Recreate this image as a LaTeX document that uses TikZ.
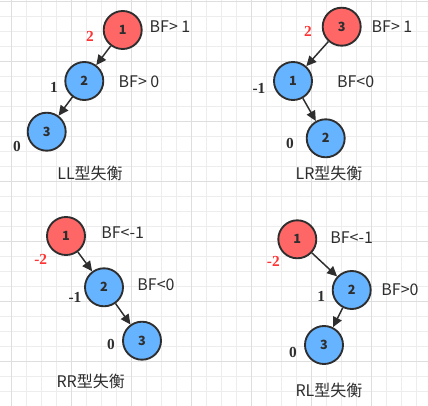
\documentclass[tikz,border=0pt]{standalone}
\usepackage{fontspec}
\setmainfont{Liberation Serif}
\newfontfamily\cjkfont{Noto Sans CJK SC}
\usetikzlibrary{arrows.meta}
\usetikzlibrary{positioning}

\definecolor{ballred}{HTML}{FF6666}
\definecolor{ballblue}{HTML}{66B3FF}
\definecolor{ballline}{HTML}{2E2E2E}
\definecolor{bfred}{HTML}{FF3333}
\definecolor{gridminor}{HTML}{EDEDED}
\definecolor{gridmajor}{HTML}{DEDEDE}

\tikzset{
  ball/.style={circle,draw=ballline,line width=1.4pt,minimum size=28.5pt,inner sep=0pt,
    font=\cjkfont\bfseries\fontsize{9.5}{9.5}\selectfont,text=ballline},
  redball/.style={ball,fill=ballred},
  blueball/.style={ball,fill=ballblue},
  link/.style={draw=ballline,line width=1.1pt,-{Triangle[length=7.5pt,width=7pt]}},
  bftext/.style={font=\cjkfont\fontsize{12}{12}\selectfont,text=ballline},
  hfred/.style={font=\bfseries\fontsize{11.5}{11.5}\selectfont,text=bfred},
  hfblack/.style={font=\bfseries\fontsize{11.5}{11.5}\selectfont,text=ballline},
  caption/.style={font=\cjkfont\fontsize{12}{12}\selectfont,text=ballline}
}

\begin{document}
\begin{tikzpicture}[x=0.75pt,y=-0.75pt]
\useasboundingbox (0,0) rectangle (428,406);
\fill[white] (0,0) rectangle (428,406);
\foreach \gx in {-3.3,11.7,...,428} \draw[gridminor,line width=0.75pt] (\gx,0) -- (\gx,406);
\foreach \gy in {1.7,16.7,...,406} \draw[gridminor,line width=0.75pt] (0,\gy) -- (428,\gy);
\foreach \gx in {11.7,71.7,...,428} \draw[gridmajor,line width=0.75pt] (\gx,0) -- (\gx,406);
\foreach \gy in {1.7,61.7,...,406} \draw[gridmajor,line width=0.75pt] (0,\gy) -- (428,\gy);

% LL
\node[redball] (ll1) at (122.7,30) {1};
\node[blueball] (ll2) at (84.3,81) {2};
\node[blueball] (ll3) at (46.7,131.7) {3};
\draw[link] (ll1) -- (ll2);
\draw[link] (ll2) -- (ll3);
\node[hfred] at (90,36) {2};
\node[bftext] at (170,27) {BF> 1};
\node[hfblack] at (54,87) {1};
\node[bftext] at (139,82) {BF> 0};
\node[hfblack] at (17,146) {0};
\node[caption] at (90,173) {LL型失衡};

% LR
\node[redball] (lr3) at (341.7,26.7) {3};
\node[blueball] (lr1) at (293,81) {1};
\node[blueball] (lr2) at (325.7,138.3) {2};
\draw[link] (lr3) -- (lr1);
\draw[link] (lr1) -- (lr2);
\node[hfred] at (308,31) {2};
\node[bftext] at (392,27) {BF> 1};
\node[hfblack] at (259,88) {-1};
\node[bftext] at (355.7,82) {BF<0};
\node[hfblack] at (290,143) {0};
\node[caption] at (329,173) {LR型失衡};

% RR
\node[redball] (rr1) at (66,236) {1};
\node[blueball] (rr2) at (104,287.3) {2};
\node[blueball] (rr3) at (142,340.7) {3};
\draw[link] (rr1) -- (rr2);
\draw[link] (rr2) -- (rr3);
\node[hfred] at (40.7,259.3) {-2};
\node[bftext] at (122.7,232.3) {BF<-1};
\node[hfblack] at (75,297.7) {-1};
\node[bftext] at (156,285) {BF<0};
\node[hfblack] at (111,344.3) {0};
\node[caption] at (90.7,381.7) {RR型失衡};

% RL
\node[redball] (rl1) at (297.3,239.3) {1};
\node[blueball] (rl2) at (351.7,290) {2};
\node[blueball] (rl3) at (324,345) {3};
\draw[link] (rl1) -- (rl2);
\draw[link] (rl2) -- (rl3);
\node[hfred] at (273.3,261.7) {-2};
\node[bftext] at (351.7,237.3) {BF<-1};
\node[hfblack] at (321.3,296.7) {1};
\node[bftext] at (400,289.3) {BF>0};
\node[hfblack] at (293,352.7) {0};
\node[caption] at (329,390.7) {RL型失衡};

\end{tikzpicture}
\end{document}
